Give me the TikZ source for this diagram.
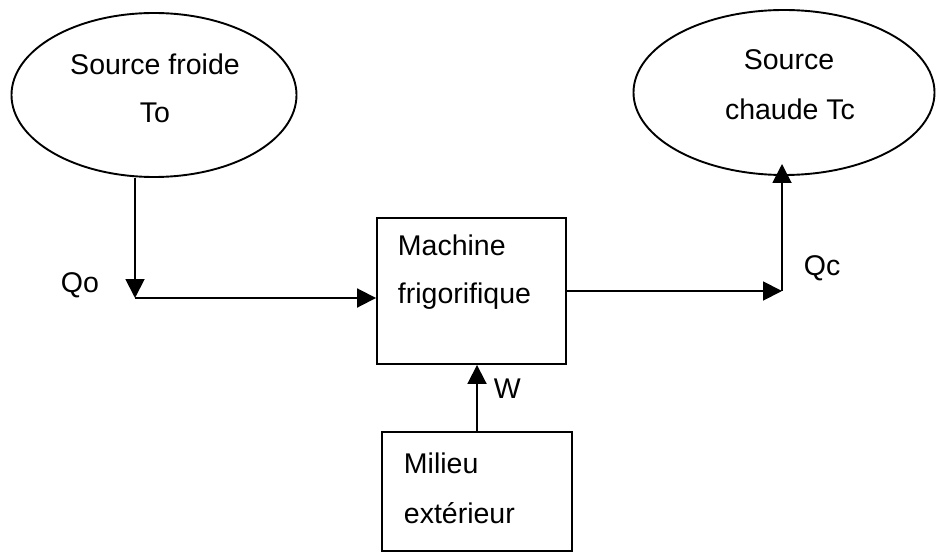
\documentclass[tikz,border=0pt]{standalone}
\usepackage{fontspec}
\setmainfont{Liberation Sans}
\usetikzlibrary{arrows.meta,shapes.geometric}
\begin{document}
\begin{tikzpicture}[x=1pt,y=-1pt, line width=1.9pt,
  src/.style={draw, ellipse, inner sep=0pt},
  boite/.style={draw, rectangle, inner sep=0pt},
  txt/.style={font=\fontsize{28.5}{34}\selectfont, inner sep=0pt},
  fl/.style={-{Triangle[length=19pt,width=19pt]}}]
\useasboundingbox (0,0) rectangle (936,553);
% shapes
\node[src, minimum width=285pt, minimum height=164pt] (froide) at (154,95) {};
\node[src, minimum width=301pt, minimum height=165pt] (chaude) at (784,92.5) {};
\node[boite, minimum width=189pt, minimum height=146pt] (mach) at (471.5,291) {};
\node[boite, minimum width=190pt, minimum height=119pt] (mil) at (477,491.5) {};
% texts
\node[txt, anchor=base] (t1) at (155,75) {Source froide};
\node[txt, anchor=base] (t2) at (155,123) {To};
\node[txt, anchor=base] (t3) at (789,70) {Source};
\node[txt, anchor=base] (t4) at (790,120) {chaude Tc};
\node[txt, anchor=base west] (t5) at (397,255) {Machine};
\node[txt, anchor=base west] (t6) at (397,303) {frigorifique};
\node[txt, anchor=base west] (t7) at (403,473) {Milieu};
\node[txt, anchor=base west] (t8) at (403,523) {extérieur};
% labels
\node[txt, anchor=base west] (qo) at (60,292) {Qo};
\node[txt, anchor=base west] (qc) at (803,275) {Qc};
\node[txt, anchor=base west] (w) at (493,398) {W};
% connectors
\coordinate (c1) at (135,298);
\coordinate (c2) at (782,291);
\coordinate (c3) at (782,164);
\draw[fl] (froide.south -| c1) -- (c1);
\draw[fl] (c1) -- (mach.west |- c1);
\draw[fl] (mach.east) -- (c2);
\draw[fl] (c2) -- (c3);
\draw[fl] (mil.north) -- (mach.south -| mil.north);
\end{tikzpicture}
\end{document}
